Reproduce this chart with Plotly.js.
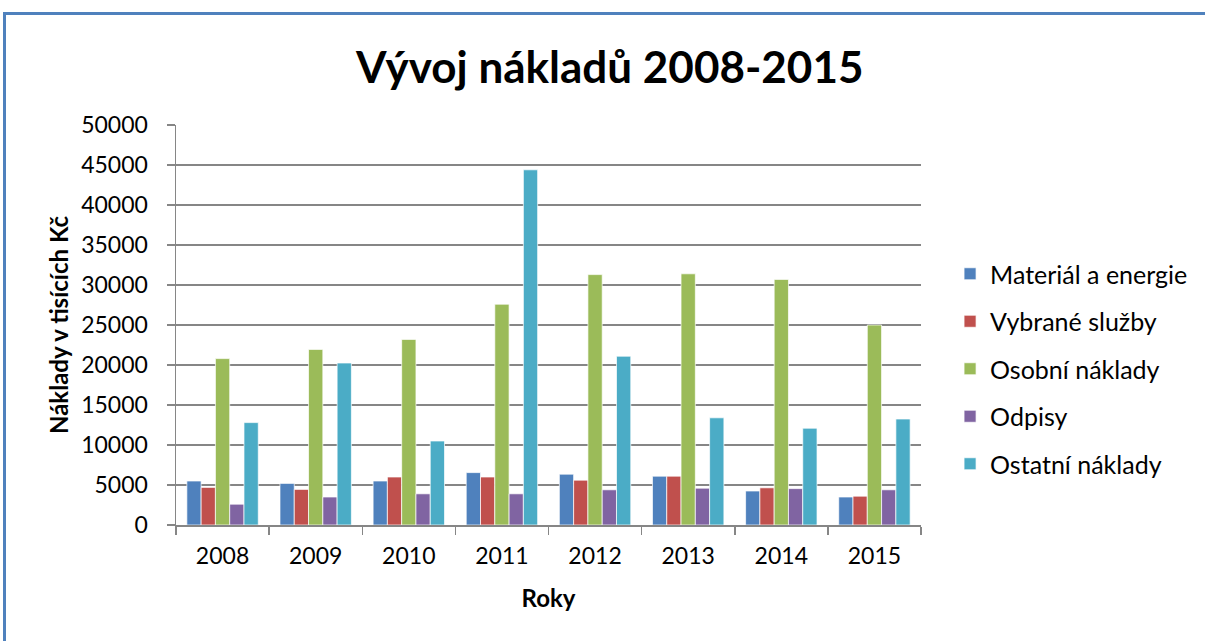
<!DOCTYPE html>
<html>
<head>
<meta charset="utf-8">
<script src="https://cdn.plot.ly/plotly-3.0.1.min.js"></script>
<style>
html,body{margin:0;padding:0;background:#fff;}
#frame{position:absolute;left:3px;top:12px;width:1210px;height:640px;border-left:3px solid #4F81BD;border-top:3px solid #4F81BD;box-sizing:border-box;}
#chart{position:absolute;left:0;top:0;width:1205px;height:641px;}
</style>
</head>
<body>
<div id="frame"></div>
<div id="chart"></div>
<script>
const years = ['2008','2009','2010','2011','2012','2013','2014','2015'];
const seriesNames = ['Materiál a energie','Vybrané služby','Osobní náklady','Odpisy','Ostatní náklady'];
const material = [5500, 5200, 5500, 6550, 6350, 6100, 4250, 3500];
const sluzby   = [4700, 4450, 6000, 6000, 5600, 6100, 4650, 3600];
const osobni   = [20800, 21950, 23200, 27600, 31300, 31400, 30700, 25000];
const odpisy   = [2600, 3500, 3900, 3900, 4400, 4600, 4550, 4400];
const ostatni  = [12800, 20250, 10500, 44400, 21100, 13400, 12100, 13250];
const colors = ['#4F81BD','#C0504D','#9BBB59','#8064A2','#4BACC6'];
const values = [material, sluzby, osobni, odpisy, ostatni];
const font = 'Lato, Carlito, Calibri, "Open Sans", sans-serif';

const traces = values.map((v,i)=>({
  type:'bar', x: years, y: v, name: seriesNames[i], legendgroup: 'g'+i,
  marker:{color: colors[i], line:{color:'rgba(255,255,255,0.7)', width:1}}
}));

const layout = {
  width:1205, height:641,
  paper_bgcolor:'rgba(0,0,0,0)', plot_bgcolor:'rgba(0,0,0,0)',
  margin:{l:176, r:281.5, t:125, b:116},
  barmode:'group', bargap:0.233, bargroupgap:0,
  title:{text:'<b>Vývoj nákladů 2008-2015</b>', font:{family:font, size:44, color:'#000'}, x:0.506, xanchor:'center', y:0.895, yanchor:'middle'},
  font:{family:font, color:'#000'},
  xaxis:{
    type:'category', showline:true, linecolor:'#868686', linewidth:1.5,
    ticks:'outside', tickson:'boundaries', ticklen:8, tickcolor:'#868686', tickwidth:1.5,
    ticklabelstandoff:10,
    tickfont:{family:font, size:23, color:'#000'},
    title:{text:'<b>Roky</b>', font:{family:font, size:24, color:'#000'}, standoff:22}
  },
  yaxis:{
    range:[0,50000], dtick:5000, tickformat:'d',
    showgrid:true, gridcolor:'#868686', gridwidth:1.5,
    showline:true, linecolor:'#868686', linewidth:1.5,
    ticks:'outside', ticklen:8, tickcolor:'#868686', tickwidth:1.5,
    ticklabelstandoff:14,
    tickfont:{family:font, size:23, color:'#000'},
    title:{text:'<b>Náklady v tisících Kč</b>', font:{family:font, size:24, color:'#000'}, standoff:6},
    zeroline:false
  },
  legend:{x:1.039, xanchor:'left', y:0.39, yanchor:'middle', traceorder:'grouped', tracegroupgap:12,
    font:{family:font, size:25, color:'#000'}, bgcolor:'rgba(0,0,0,0)', itemwidth:30},
  showlegend:true
};
Plotly.newPlot('chart', traces, layout, {displayModeBar:false, staticPlot:true});
</script>
</body>
</html>
